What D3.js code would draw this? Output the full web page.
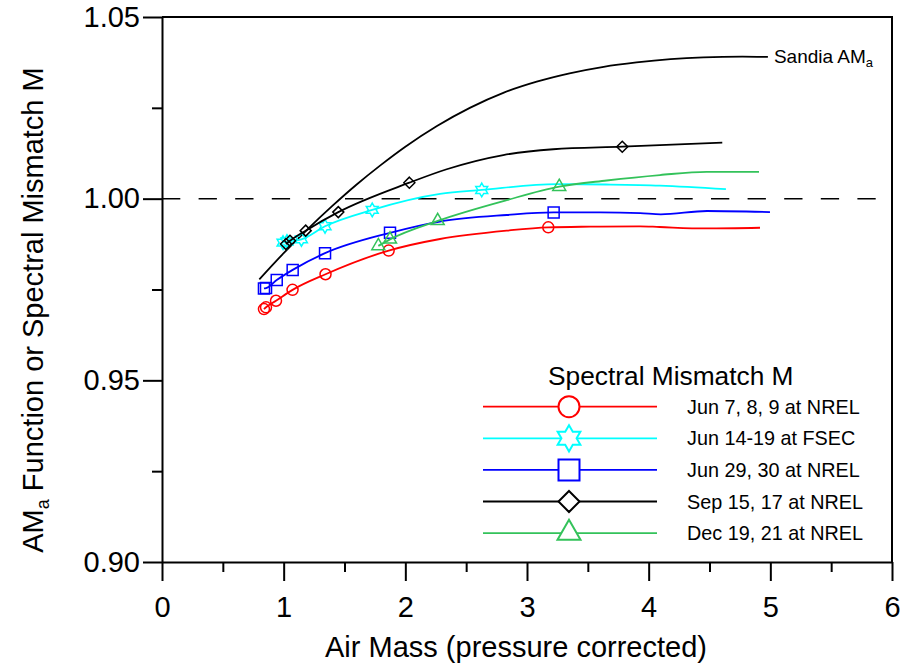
<!DOCTYPE html>
<html lang="en">
<head>
  <meta charset="UTF-8">
  <title>Spectral Mismatch vs Air Mass</title>
  <script src="https://d3js.org/d3.v7.min.js"></script>
  <style>
    body { margin: 0; background: #ffffff; }
    svg { display: block; font-family: 'Liberation Sans', Arial, sans-serif; }
    .axis path, .axis line { stroke: #000; stroke-width: 2px; }
    .axis text { font-family: 'Liberation Sans', Arial, sans-serif; font-size: 29px; fill: #000; }
    .curve { fill: none; stroke-width: 1.8px; }
  </style>
</head>
<body>
  <svg id="chart" width="904" height="669"></svg>

  <script>
    // axis ticks
    const xTicks = [0, 1, 2, 3, 4, 5, 6];
    const xMinor = [0.5, 1.5, 2.5, 3.5, 4.5, 5.5];
    const yTicks = [0.90, 0.95, 1.00, 1.05];
    const yMinor = [0.925, 0.975, 1.025];

    // series (legend order)
    const seriesNames = ["Jun 7, 8, 9 at NREL", "Jun 14-19 at FSEC", "Jun 29, 30 at NREL",
                         "Sep 15, 17 at NREL", "Dec 19, 21 at NREL"];
    const seriesColors = ["#ff0000", "#00ffff", "#0000ff", "#000000", "#33c25a"];
    const seriesSymbols = ["circle", "star", "square", "diamond", "triangle"];

    // [air mass, M]
    const junNrel1 = [[0.838,0.9696],[0.855,0.9701],[0.937,0.9719],[1.073,0.9749],[1.344,0.9792],
                      [1.863,0.9857],[2.285,0.9889],[2.833,0.9912],[3.175,0.9921],[3.52,0.9923],
                      [3.93,0.9924],[4.09,0.9922],[4.47,0.9918],[4.915,0.9920]];
    const junFsec = [[0.995,0.9879],[1.027,0.9882],[1.146,0.9888],[1.340,0.9924],[1.728,0.9969],
                     [2.285,1.0013],[2.628,1.0024],[3.244,1.0040],[3.65,1.0039],[4.093,1.0036],
                     [4.635,1.0026]];
    const junNrel2 = [[0.838,0.9753],[0.855,0.9754],[0.943,0.9776],[1.074,0.9804],[1.340,0.9850],
                      [1.874,0.9906],[2.285,0.9937],[2.833,0.9955],[3.219,0.9962],[3.6,0.9962],
                      [3.93,0.9960],[4.1,0.9957],[4.48,0.9966],[4.997,0.9963]];
    const sepNrel = [[1.019,0.9875],[1.052,0.9884],[1.181,0.9912],[1.449,0.9963],[2.033,1.0044],
                     [2.34,1.0081],[2.805,1.0120],[3.216,1.0136],[3.783,1.0143],[4.605,1.0154]];
    const decNrel = [[1.778,0.9870],[1.874,0.9888],[2.266,0.9939],[2.833,0.9996],[3.265,1.0033],
                     [3.655,1.0050],[4.093,1.0065],[4.477,1.0074],[4.907,1.0074]];
    const sandiaAMa = [[0.80,0.9778],[1.00,0.9850],[1.20,0.9917],[1.40,0.9980],[1.60,1.0039],
                       [1.80,1.0093],[2.00,1.0143],[2.26,1.0200],[2.53,1.0250],[2.81,1.0292],
                       [3.08,1.0322],[3.35,1.0345],[3.63,1.0363],[3.90,1.0375],[4.18,1.0384],
                       [4.45,1.0389],[4.77,1.0391],[4.98,1.0390]];

    // which points of each series carry a marker
    const markerIdx = [
      [0, 1, 2, 3, 4, 5, 8],
      [0, 1, 2, 3, 4, 6],
      [0, 1, 2, 3, 4, 5, 8],
      [0, 1, 2, 3, 4, 8],
      [0, 1, 2, 4]
    ];
    const seriesData = [junNrel1, junFsec, junNrel2, sepNrel, decNrel];

    const svg = d3.select("#chart");
    svg.append("rect").attr("width", 904).attr("height", 669).attr("fill", "#fff");

    const x = d3.scaleLinear().domain([0, 6]).range([162, 892]);
    const y = d3.scaleLinear().domain([0.90, 1.05]).range([562, 17]);

    // marker shapes
    function starPath(R) {
      const r = R / Math.sqrt(3);
      const pts = d3.range(12).map(i => {
        const a = -Math.PI / 2 + i * Math.PI / 6;
        const rr = i % 2 ? r : R;
        return [rr * Math.cos(a), rr * Math.sin(a)];
      });
      return "M" + pts.join("L") + "Z";
    }
    function markerPath(type, s) {
      if (type === "circle") return `M${s},0A${s},${s} 0 1,1 ${-s},0A${s},${s} 0 1,1 ${s},0Z`;
      if (type === "square") return `M${-s},${-s}H${s}V${s}H${-s}Z`;
      if (type === "diamond") return `M0,${-s}L${s},0L0,${s}L${-s},0Z`;
      if (type === "triangle") {
        const h = s * Math.sqrt(3);
        return `M0,${-h * 2 / 3}L${s},${h / 3}L${-s},${h / 3}Z`;
      }
      return starPath(s * 1.25);
    }

    // dashed reference at 1.00
    svg.append("line")
      .attr("x1", x(0)).attr("x2", x(6))
      .attr("y1", y(1.0)).attr("y2", y(1.0))
      .attr("stroke", "#000").attr("stroke-width", 1.5)
      .attr("stroke-dasharray", "18.3,18.3");

    const line = d3.line()
      .x(d => x(d[0]))
      .y(d => y(d[1]))
      .curve(d3.curveMonotoneX);

    // Sandia AMa
    svg.append("path").datum(sandiaAMa)
      .attr("class", "curve").attr("stroke", "#000").attr("d", line);
    const lastS = sandiaAMa[sandiaAMa.length - 1];
    const sLabel = svg.append("text")
      .attr("x", x(lastS[0]) + 6).attr("y", y(lastS[1]) + 6)
      .attr("font-size", 19);
    sLabel.append("tspan").text("Sandia AM");
    sLabel.append("tspan").attr("font-size", 13).attr("dy", 4).text("a");

    seriesData.forEach((pts, i) => {
      svg.append("path").datum(pts)
        .attr("class", "curve").attr("stroke", seriesColors[i]).attr("d", line);
      svg.selectAll(null)
        .data(markerIdx[i].map(k => pts[k]))
        .join("path")
        .attr("transform", d => `translate(${x(d[0])},${y(d[1])})`)
        .attr("d", markerPath(seriesSymbols[i], seriesSymbols[i] === "triangle" ? 6.5 : 5.5))
        .attr("fill", "none")
        .attr("stroke", seriesColors[i])
        .attr("stroke-width", 1.5);
    });

    // axes
    svg.append("g").attr("class", "axis")
      .attr("transform", `translate(0,${y(0.90)})`)
      .call(d3.axisBottom(x).tickValues(xTicks).tickSize(19).tickSizeOuter(0)
        .tickPadding(15).tickFormat(d3.format("d")));
    svg.append("g").attr("class", "axis")
      .attr("transform", `translate(0,${y(0.90)})`)
      .call(d3.axisBottom(x).tickValues(xMinor).tickSize(10).tickFormat(""))
      .call(g => g.select(".domain").remove());
    svg.append("g").attr("class", "axis")
      .attr("transform", `translate(${x(0)},0)`)
      .call(d3.axisLeft(y).tickValues(yTicks).tickSize(19).tickSizeOuter(0)
        .tickPadding(3).tickFormat(d3.format(".2f")));
    svg.append("g").attr("class", "axis")
      .attr("transform", `translate(${x(0)},0)`)
      .call(d3.axisLeft(y).tickValues(yMinor).tickSize(10).tickFormat(""))
      .call(g => g.select(".domain").remove());

    // frame top and right
    svg.append("path")
      .attr("d", `M${x(0)},${y(1.05)}H${x(6)}V${y(0.90)}`)
      .attr("fill", "none").attr("stroke", "#000").attr("stroke-width", 2);

    // axis titles
    svg.append("text")
      .attr("x", 516).attr("y", 657)
      .attr("text-anchor", "middle").attr("font-size", 29)
      .text("Air Mass (pressure corrected)");
    const yTitle = svg.append("text")
      .attr("transform", "translate(43,310) rotate(-90)")
      .attr("text-anchor", "middle").attr("font-size", 29);
    yTitle.append("tspan").text("AM");
    yTitle.append("tspan").attr("font-size", 18).attr("dy", 6).text("a");
    yTitle.append("tspan").attr("dy", -6).text(" Function or Spectral Mismatch M");

    // legend
    const legend = svg.append("g");
    legend.append("text")
      .attr("x", 548).attr("y", 385).attr("font-size", 26.3)
      .text("Spectral Mismatch M");
    seriesNames.forEach((name, i) => {
      const ly = 406.7 + i * 31.6;
      legend.append("line")
        .attr("x1", 483).attr("x2", 657).attr("y1", ly).attr("y2", ly)
        .attr("stroke", seriesColors[i]).attr("stroke-width", 1.8);
      legend.append("path")
        .attr("transform", `translate(569,${ly})`)
        .attr("d", markerPath(seriesSymbols[i], seriesSymbols[i] === "triangle" ? 11.5 : 10.5))
        .attr("fill", "#fff").attr("stroke", seriesColors[i]).attr("stroke-width", 2);
      legend.append("text")
        .attr("x", 687).attr("y", ly + 7).attr("font-size", 19.8)
        .text(name);
    });
  </script>
</body>
</html>
